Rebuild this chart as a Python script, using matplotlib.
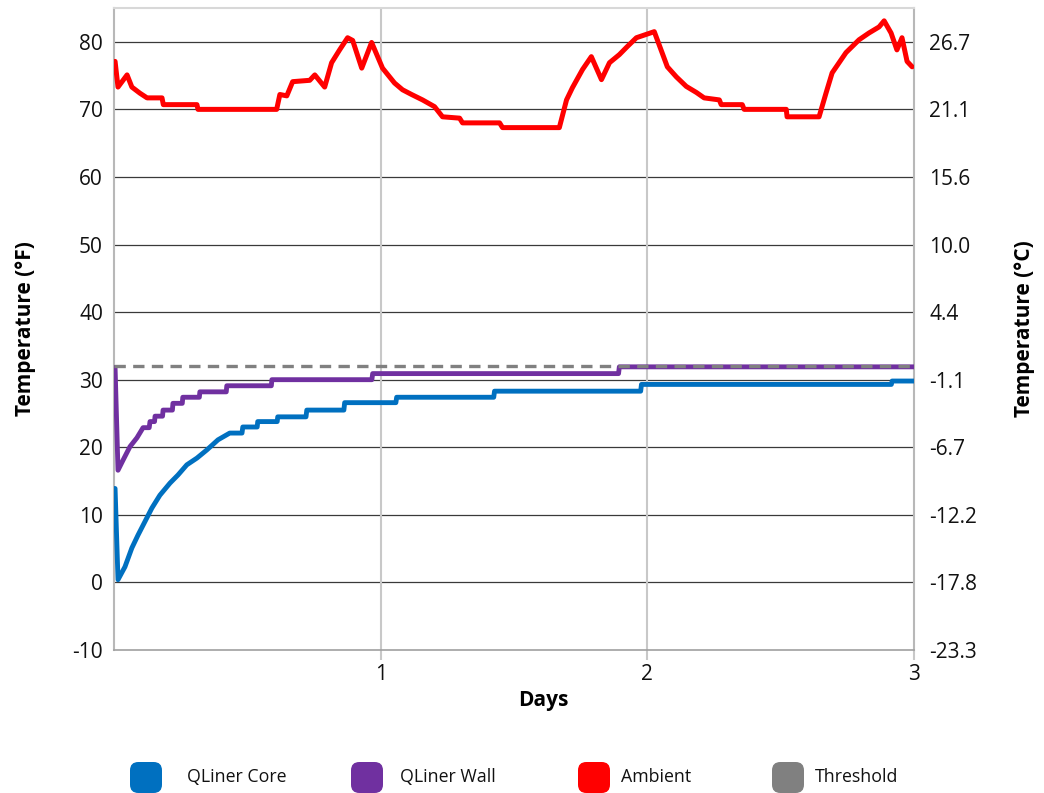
import matplotlib
matplotlib.use("Agg")
import matplotlib.pyplot as plt
from matplotlib.patches import FancyBboxPatch

plt.rcParams['font.family'] = ['Open Sans', 'DejaVu Sans']
plt.rcParams['axes.unicode_minus'] = False

# ---------------- data ----------------
core_days = [0.000, 0.004, 0.015, 0.041, 0.067, 0.090, 0.116, 0.142, 0.172, 0.210, 0.240,
             0.273, 0.311, 0.348, 0.390, 0.434, 0.480, 0.483, 0.537, 0.539, 0.612, 0.614,
             0.720, 0.723, 0.862, 0.865, 1.057, 1.060, 1.424, 1.427, 1.975, 1.978,
             2.915, 2.918, 3.000]
core_temp = [13.9, 13.9, 0.4, 2.3, 5.1, 7.0, 9.0, 11.0, 12.9, 14.7, 15.9,
             17.4, 18.4, 19.6, 21.1, 22.1, 22.1, 23.0, 23.0, 23.8, 23.8, 24.5,
             24.5, 25.5, 25.5, 26.6, 26.6, 27.4, 27.4, 28.3, 28.3, 29.3,
             29.3, 29.8, 29.8]

wall_days = [0.000, 0.004, 0.015, 0.034, 0.060, 0.086, 0.109, 0.132, 0.135, 0.152,
             0.154, 0.182, 0.184, 0.219, 0.221, 0.256, 0.258, 0.320, 0.322, 0.421,
             0.423, 0.590, 0.592, 0.967, 0.970, 1.892, 1.895, 3.000]
wall_temp = [31.8, 31.8, 16.6, 18.1, 20.1, 21.4, 22.9, 22.9, 23.8, 23.8,
             24.6, 24.6, 25.5, 25.5, 26.5, 26.5, 27.4, 27.4, 28.2, 28.2,
             29.1, 29.1, 30.0, 30.0, 30.9, 30.9, 31.9, 31.9]

amb_days = [0.004, 0.015, 0.049, 0.067, 0.097, 0.124, 0.180, 0.185, 0.311, 0.315,
            0.405, 0.610, 0.622, 0.648, 0.670, 0.734, 0.753, 0.790, 0.816, 0.846,
            0.876, 0.895, 0.929, 0.966, 1.007, 1.052, 1.082, 1.116, 1.157, 1.202,
            1.232, 1.296, 1.307, 1.446, 1.457, 1.670, 1.697, 1.719, 1.757, 1.790,
            1.828, 1.858, 1.895, 1.925, 1.959, 2.026, 2.075, 2.109, 2.146, 2.184,
            2.213, 2.270, 2.277, 2.356, 2.363, 2.521, 2.524, 2.644, 2.670, 2.693,
            2.745, 2.794, 2.831, 2.869, 2.888, 2.914, 2.936, 2.955, 2.974, 2.993]
amb_temp = [77.1, 73.3, 75.1, 73.3, 72.4, 71.7, 71.7, 70.7, 70.7, 70.0,
            70.0, 70.0, 72.2, 72.0, 74.1, 74.3, 75.1, 73.3, 76.9, 78.8,
            80.6, 80.2, 76.1, 79.9, 76.1, 73.9, 72.9, 72.2, 71.4, 70.4,
            68.9, 68.7, 68.0, 68.0, 67.3, 67.3, 71.4, 73.2, 75.9, 77.8,
            74.4, 76.9, 78.1, 79.3, 80.6, 81.5, 76.3, 74.8, 73.4, 72.5,
            71.7, 71.4, 70.7, 70.7, 70.0, 70.0, 68.9, 68.9, 72.4, 75.4,
            78.4, 80.3, 81.3, 82.2, 83.1, 81.3, 78.8, 80.6, 77.1, 76.3]

threshold = 32
f_ticks = [-10, 0, 10, 20, 30, 40, 50, 60, 70, 80]
c_labels = ["-23.3", "-17.8", "-12.2", "-6.7", "-1.1", "4.4", "10.0", "15.6", "21.1", "26.7"]
x_ticks = [1, 2, 3]

series_names = ["QLiner Core", "QLiner Wall", "Ambient", "Threshold"]
series_colors = ["#0070C0", "#7030A0", "#FF0000", "#808080"]

# ---------------- figure ----------------
W, H = 1044, 793
fig = plt.figure(figsize=(W / 100, H / 100), dpi=100)
ax = fig.add_axes([114 / W, 1 - 650 / H, 800 / W, 642 / H])
ax.set_xlim(0, 3)
ax.set_ylim(-10, 85)

for y in f_ticks:
    if y == -10:
        continue
    ax.axhline(y, color="#3a3a3a", lw=0.9, zorder=1)
for x in x_ticks[:-1]:
    ax.axvline(x, color="#c8c8c8", lw=1.5, zorder=1)

ax.plot(amb_days, amb_temp, color=series_colors[2], lw=3.6, solid_joinstyle="round",
        solid_capstyle="round", zorder=3)
ax.plot(core_days, core_temp, color=series_colors[0], lw=3.5, solid_joinstyle="round", zorder=4)
ax.plot(wall_days, wall_temp, color=series_colors[1], lw=3.5, solid_joinstyle="round", zorder=4)
ax.axhline(threshold, color=series_colors[3], lw=2.4, ls=(0, (3.4, 2.2)), zorder=5)

for side in ["left", "right", "top", "bottom"]:
    ax.spines[side].set_color("#b8b8b8")
    ax.spines[side].set_linewidth(1.5)
ax.spines["top"].set_color("#d8d8d8")
ax.spines["bottom"].set_color("#a0a0a0")
ax.spines["bottom"].set_linewidth(1.2)

ax.set_yticks(f_ticks)
ax.set_yticklabels([str(v) for v in f_ticks])
ax.tick_params(axis="y", length=0, pad=8, labelsize=15, labelcolor="#111111")
ax.set_xticks(x_ticks)
ax.set_xticklabels([str(v) for v in x_ticks])
ax.tick_params(axis="x", length=7, width=1.5, color="#c8c8c8", pad=3, labelsize=15,
               labelcolor="#111111")

ax2 = ax.twinx()
ax2.set_ylim(ax.get_ylim())
ax2.set_yticks(f_ticks)
ax2.set_yticklabels(c_labels)
ax2.tick_params(axis="y", length=0, pad=11, labelsize=15, labelcolor="#111111")
for side in ["left", "right", "top", "bottom"]:
    ax2.spines[side].set_visible(False)

ax.set_ylabel("Temperature (°F)", fontsize=15, fontweight="bold")
ax.yaxis.set_label_coords(-(114 - 36) / 800, 0.5)
ax2.set_ylabel("Temperature (°C)", fontsize=15, fontweight="bold", rotation=90)
ax2.yaxis.set_label_coords(1 + (1014 - 914) / 800, 0.5)
ax.set_xlabel("Days", fontsize=15, fontweight="bold")
ax.xaxis.set_label_coords((543 - 114) / 800, -(690 - 650) / 642)

# ---------------- legend ----------------
patch_x = [130, 351, 578, 772]
text_x = [187, 400, 621, 815]
for px, tx, name, col in zip(patch_x, text_x, series_names, series_colors):
    fig.patches.append(FancyBboxPatch((px / W, 1 - 793 / H), 32 / W, 31 / H,
                                      boxstyle="round,pad=0,rounding_size=0.008",
                                      transform=fig.transFigure, facecolor=col,
                                      edgecolor="none", mutation_aspect=W / H))
    fig.text(tx / W, 1 - 777 / H, name, fontsize=12.8, va="center", ha="left", color="#111111")

fig.savefig("out.png", dpi=100)
